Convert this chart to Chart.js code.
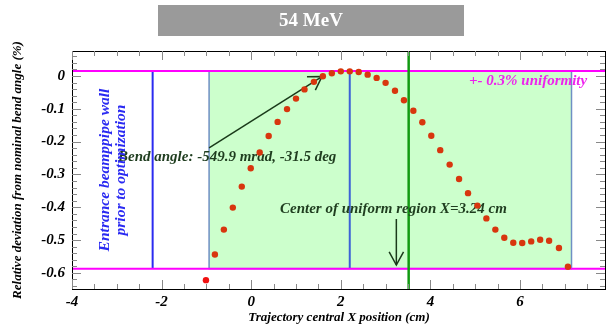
<!DOCTYPE html>
<html>
<head>
<meta charset="utf-8">
<script src="https://cdn.jsdelivr.net/npm/chart.js@4.4.1/dist/chart.umd.min.js"></script>
<style>
  html, body { margin: 0; padding: 0; background: #fff; }
  #wrap { width: 606px; height: 325px; }
</style>
</head>
<body>
<div id="wrap"><canvas id="c" width="606" height="325"></canvas></div>
<script>
// trajectory central X position (cm)
const xPos = [-1.01, -0.81, -0.61, -0.41, -0.21, -0.01, 0.19, 0.39, 0.59, 0.80,
  1.00, 1.19, 1.40, 1.60, 1.80, 2.00, 2.20, 2.40, 2.60, 2.80,
  3.00, 3.21, 3.41, 3.62, 3.82, 4.02, 4.22, 4.43, 4.64, 4.84,
  5.05, 5.25, 5.45, 5.65, 5.85, 6.05, 6.25, 6.45, 6.65, 6.87, 7.07];
// relative deviation from nominal bend angle (%)
const devPct = [-0.622, -0.544, -0.468, -0.401, -0.337, -0.281, -0.233, -0.183, -0.140, -0.101,
  -0.069, -0.041, -0.018, -0.001, 0.008, 0.014, 0.014, 0.012, 0.004, -0.006,
  -0.021, -0.045, -0.074, -0.106, -0.141, -0.182, -0.226, -0.270, -0.314, -0.357,
  -0.395, -0.434, -0.468, -0.493, -0.508, -0.509, -0.504, -0.499, -0.502, -0.524, -0.581];

const xTicks = [-4, -2, 0, 2, 4, 6];
const yTicks = [0, -0.1, -0.2, -0.3, -0.4, -0.5, -0.6];

// uniformity band and marker lines (data units)
const band = [0.015, -0.587];
const uniformBoxX = [-0.94, 7.15];
const wallX = -2.2;
const midX = 2.2;
const greenX = 3.515;
const centerX = 3.24;
const bendArrow = [[-0.94, -0.219], [1.58, -0.002]];

const serif = "'Liberation Serif', 'DejaVu Serif', serif";

function arrowHead(ctx, x0, y0, x1, y1, len, ang) {
  const a = Math.atan2(y1 - y0, x1 - x0);
  ctx.beginPath();
  ctx.moveTo(x1 - len * Math.cos(a - ang), y1 - len * Math.sin(a - ang));
  ctx.lineTo(x1, y1);
  ctx.lineTo(x1 - len * Math.cos(a + ang), y1 - len * Math.sin(a + ang));
  ctx.stroke();
}

const decor = {
  id: 'decor',
  beforeDatasetsDraw(chart) {
    const ctx = chart.ctx, a = chart.chartArea;
    const x = chart.scales.x, y = chart.scales.y;
    ctx.save();

    // green uniform region box
    const bx0 = x.getPixelForValue(uniformBoxX[0]), bx1 = x.getPixelForValue(uniformBoxX[1]);
    const by0 = y.getPixelForValue(band[0]), by1 = y.getPixelForValue(band[1]);
    ctx.fillStyle = '#ccffcc';
    ctx.fillRect(bx0, by0, bx1 - bx0, by1 - by0);
    ctx.strokeStyle = '#6f8fc4';
    ctx.lineWidth = 1.5;
    ctx.strokeRect(bx0, by0, bx1 - bx0, by1 - by0);

    // blue lines
    ctx.lineWidth = 2;
    ctx.strokeStyle = '#2b2bf0';
    let px = x.getPixelForValue(wallX);
    ctx.beginPath(); ctx.moveTo(px, by0); ctx.lineTo(px, by1); ctx.stroke();
    ctx.strokeStyle = '#3d62d6';
    px = x.getPixelForValue(midX);
    ctx.beginPath(); ctx.moveTo(px, by0); ctx.lineTo(px, by1); ctx.stroke();

    // magenta band lines
    ctx.strokeStyle = '#ff00ff';
    ctx.beginPath();
    ctx.moveTo(a.left, by0); ctx.lineTo(a.right, by0);
    ctx.moveTo(a.left, by1); ctx.lineTo(a.right, by1);
    ctx.stroke();

    // green vertical
    ctx.strokeStyle = '#129a12';
    ctx.lineWidth = 2.5;
    px = x.getPixelForValue(greenX);
    ctx.beginPath(); ctx.moveTo(px, a.top); ctx.lineTo(px, a.bottom); ctx.stroke();

    // frame and inward ticks
    ctx.strokeStyle = '#000';
    ctx.lineWidth = 1;
    ctx.strokeRect(a.left + 0.5, a.top + 0.5, a.right - a.left - 1, a.bottom - a.top);
    ctx.strokeStyle = '#888';
    ctx.beginPath();
    for (let v = -4; v <= 7.9; v += 0.5) {
      const p = Math.round(x.getPixelForValue(v)) + 0.5;
      const major = Math.abs(v / 2 - Math.round(v / 2)) < 1e-6;
      const l = major ? 9 : 5;
      ctx.moveTo(p, a.bottom); ctx.lineTo(p, a.bottom - l);
      ctx.moveTo(p, a.top); ctx.lineTo(p, a.top + l);
    }
    for (let i = -32; i <= 3; i++) {
      const v = i * 0.02;
      const p = Math.round(y.getPixelForValue(v)) + 0.5;
      const l = (i % 5 === 0) ? 9 : 5;
      ctx.moveTo(a.left, p); ctx.lineTo(a.left + l, p);
      ctx.moveTo(a.right - 1, p); ctx.lineTo(a.right - 1 - l, p);
    }
    ctx.stroke();

    // texts
    ctx.textBaseline = 'middle';
    ctx.textAlign = 'left';
    ctx.fillStyle = '#ee22ee';
    ctx.font = 'italic bold 15px ' + serif;
    ctx.fillText('+- 0.3% uniformity', 469, 81);

    ctx.fillStyle = '#1f3d1f';
    ctx.fillText('Bend angle: -549.9 mrad, -31.5 deg', 118, 157);
    ctx.fillText('Center of uniform region X=3.24 cm', 280, 209);

    // rotated blue note
    ctx.save();
    ctx.fillStyle = '#2a2af2';
    ctx.textAlign = 'center';
    ctx.font = 'italic bold 15.5px ' + serif;
    ctx.translate(105, 170);
    ctx.rotate(-Math.PI / 2);
    ctx.fillText('Entrance beamppipe wall', 0, 0);
    ctx.fillText('prior to optimization', 0, 16);
    ctx.restore();

    // arrows
    ctx.strokeStyle = '#1a3a1a';
    ctx.lineWidth = 1.5;
    const ax0 = x.getPixelForValue(bendArrow[0][0]), ay0 = y.getPixelForValue(bendArrow[0][1]);
    const ax1 = x.getPixelForValue(bendArrow[1][0]), ay1 = y.getPixelForValue(bendArrow[1][1]);
    ctx.beginPath(); ctx.moveTo(ax0, ay0); ctx.lineTo(ax1, ay1); ctx.stroke();
    arrowHead(ctx, ax0, ay0, ax1, ay1, 15, 0.55);

    const cx = x.getPixelForValue(centerX);
    ctx.beginPath(); ctx.moveTo(cx, 219); ctx.lineTo(cx, 265); ctx.stroke();
    arrowHead(ctx, cx, 219, cx, 265, 15, 0.5);

    // title box
    ctx.fillStyle = '#9a9a9a';
    ctx.fillRect(158, 5, 306, 31);
    ctx.fillStyle = '#fff';
    ctx.textAlign = 'center';
    ctx.font = 'bold 19px ' + serif;
    ctx.fillText('54 MeV', 311, 21);
    ctx.restore();
  }
};

const pointColors = xPos.map((v, i) => i === 0 ? '#f01010' : '#d8360e');

new Chart(document.getElementById('c'), {
  type: 'scatter',
  data: {
    datasets: [{
      data: xPos.map((v, i) => ({ x: v, y: devPct[i] })),
      pointBackgroundColor: pointColors,
      pointBorderColor: pointColors,
      pointRadius: 3.2,
      borderWidth: 0
    }]
  },
  options: {
    responsive: false,
    animation: false,
    layout: { autoPadding: false, padding: { top: 51, right: 0, left: 0, bottom: 0 } },
    plugins: { legend: { display: false }, tooltip: { enabled: false } },
    scales: {
      x: {
        type: 'linear',
        min: -4, max: 7.92,
        grid: { display: false, drawTicks: false },
        border: { display: false },
        afterBuildTicks: s => { s.ticks = xTicks.map(v => ({ value: v })); },
        afterFit: s => { s.height = 36; },
        ticks: {
          color: '#000', padding: 4,
          font: { family: serif, size: 15, style: 'italic', weight: 'bold' },
          callback: v => String(v)
        },
        title: {
          display: true, text: 'Trajectory central X position (cm)',
          color: '#000', padding: { top: 0, bottom: 0 },
          font: { family: serif, size: 13, style: 'italic', weight: 'bold' }
        }
      },
      y: {
        type: 'linear',
        min: -0.649, max: 0.076,
        grid: { display: false, drawTicks: false },
        border: { display: false },
        afterBuildTicks: s => { s.ticks = yTicks.map(v => ({ value: v })); },
        afterFit: s => { s.width = 72; },
        ticks: {
          color: '#000', padding: 7,
          font: { family: serif, size: 15, style: 'italic', weight: 'bold' },
          callback: v => String(v)
        },
        title: {
          display: true, text: 'Relative deviation from nominal bend angle (%)',
          color: '#000', padding: { top: 10, bottom: 0 },
          font: { family: serif, size: 13, style: 'italic', weight: 'bold' }
        }
      }
    }
  },
  plugins: [decor]
});
</script>
</body>
</html>
